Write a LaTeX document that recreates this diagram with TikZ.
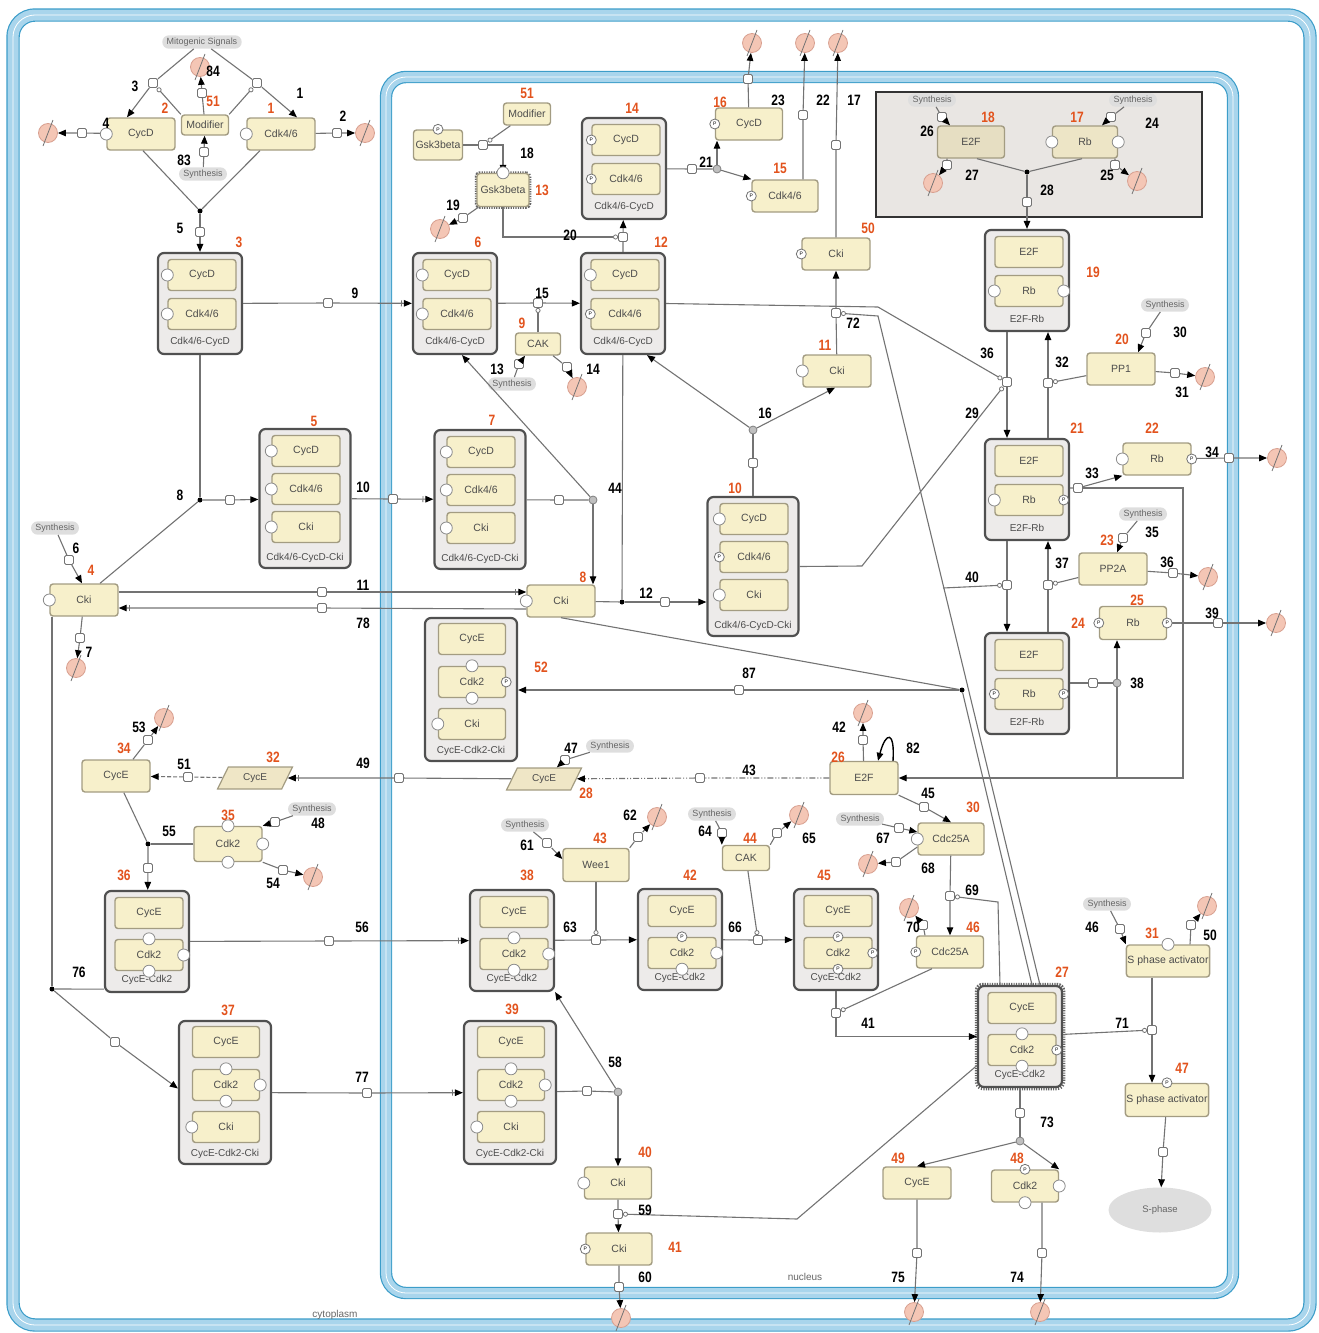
\documentclass[tikz,border=0pt]{standalone}
\usepackage{fontspec}
\setmainfont{Liberation Sans}
\newfontfamily\numfont[FakeStretch=0.8]{Liberation Sans}
\usetikzlibrary{arrows.meta,shapes.geometric,shapes.misc,positioning}

\definecolor{specfill}{HTML}{F7F0CB}
\definecolor{specline}{HTML}{A39C82}
\definecolor{cplxfill}{HTML}{EDEBEA}
\definecolor{cplxline}{HTML}{505050}
\definecolor{degfill}{HTML}{F4C6B5}
\definecolor{degline}{HTML}{D8A090}
\definecolor{rednum}{HTML}{E2531D}
\definecolor{compblue}{HTML}{A9D5EC}
\definecolor{compdark}{HTML}{3C9DC9}
\definecolor{boxgrey}{HTML}{E9E6E3}
\definecolor{e2fgrey}{HTML}{E6DEC2}
\definecolor{genefill}{HTML}{EFE6C6}

\tikzset{
  spec/.style={draw=specline, fill=specfill, line width=1.4pt, rounded corners=3pt,
    minimum width=68pt, minimum height=32pt, inner sep=1pt, text=black!70,
    font=\fontsize{10.5}{11}\selectfont},
  subspec/.style={spec, minimum width=68pt, minimum height=31pt},
  cplx/.style={draw=cplxline, fill=cplxfill, line width=2.2pt, rounded corners=6pt, inner sep=0pt},
  clab/.style={text=black!70, font=\fontsize{10}{10}\selectfont, inner sep=0pt},
  gene/.style={trapezium, trapezium left angle=62, trapezium right angle=118, trapezium stretches,
    draw=specline, fill=genefill, line width=1.2pt, minimum width=75pt, minimum height=22pt,
    inner sep=0pt, text=black!70, font=\fontsize{10}{10}\selectfont},
  site/.style={circle, draw=black!45, fill=white, line width=0.8pt, minimum size=12pt, inner sep=0pt},
  psite/.style={circle, draw=black!55, fill=white, line width=0.8pt, minimum size=10pt, inner sep=0pt,
    font=\fontsize{5}{5}\selectfont},
  degr/.style={circle, draw=degline, fill=degfill, line width=0.8pt, minimum size=19pt, inner sep=0pt},
  slash/.style={draw=black!55, line width=0.8pt},
  synth/.style={rounded rectangle, fill=black!13, inner xsep=3pt, inner ysep=2.5pt, text=black!60,
    font=\fontsize{9}{9}\selectfont},
  rsq/.style={draw=black!55, fill=white, line width=0.9pt, minimum size=9pt, inner sep=0pt, rounded corners=1.5pt},
  jdot/.style={circle, fill=black, inner sep=0pt, minimum size=5pt},
  junc/.style={circle, draw=black!50, fill=black!25, line width=0.8pt, minimum size=8pt, inner sep=0pt},
  conn/.style={draw=black!55, line width=1.1pt},
  arr/.style={-{Triangle[length=8pt,width=6.5pt,color=black]}},
  tarr/.style={-{Bar[width=6pt,line width=0.9pt,color=black!55,sep=2pt]Triangle[length=8pt,width=6.5pt,color=black]}},
  modif/.style={conn, -{Circle[open,length=5pt,width=5pt,color=black!55,line width=0.8pt]}},
  num/.style={font=\numfont\bfseries\fontsize{15}{15}\selectfont, inner sep=0pt},
  rnum/.style={num, text=rednum},
}

% complexes: two rows, three rows (CycD type), three rows (CycE type)
\newcommand{\cpxtwo}[7][61]{%
  \node[cplx, minimum width=84pt, minimum height=101pt] (#2) at (#3,#4+50.5) {};
  \node[subspec] (#2a) at (#3+2,#4+22) {#5};
  \node[subspec] (#2b) at (#3+2,#4+#1) {#6};
  \node[clab] (#2l) at (#3,#4+89) {#7};
}
\newcommand{\cpxD}[7]{%
  \node[cplx, minimum width=91pt, minimum height=139pt] (#1) at (#2,#3+69.5) {};
  \node[subspec] (#1a) at (#2+1,#3+22) {#4};
  \node[subspec] (#1b) at (#2+1,#3+60) {#5};
  \node[subspec] (#1c) at (#2+1,#3+98) {#6};
  \node[clab] (#1l) at (#2,#3+129) {#7};
}
\newcommand{\cpxE}[7]{%
  \node[cplx, minimum width=92pt, minimum height=143pt] (#1) at (#2,#3+71.5) {};
  \node[subspec, minimum width=67pt] (#1a) at (#2+1,#3+21) {#4};
  \node[subspec, minimum width=67pt] (#1b) at (#2+1,#3+64) {#5};
  \node[subspec, minimum width=67pt] (#1c) at (#2+1,#3+106) {#6};
  \node[clab] (#1l) at (#2,#3+133) {#7};
}

\begin{document}
\begin{tikzpicture}[x=1pt, y=-1pt]
  \useasboundingbox (0,0) rectangle (1318,1333);
  % compartments
  \draw[draw=compdark, line width=1.2pt, double=compblue, double distance=11pt, rounded corners=22pt]
    (13,15) rectangle (1310,1325);
  \draw[white, line width=0.8pt, rounded corners=22pt] (13,15) rectangle (1310,1325);
  \draw[draw=compdark, line width=1.2pt, double=compblue, double distance=10pt, rounded corners=20pt]
    (386,77) rectangle (1233,1293);
  \draw[white, line width=0.8pt, rounded corners=20pt] (386,77) rectangle (1233,1293);
  \node[text=black!60, font=\fontsize{10}{10}\selectfont] (lcyto) at (335,1315) {cytoplasm};
  \node[text=black!60, font=\fontsize{10}{10}\selectfont] (lnuc) at (805,1277) {nucleus};
  \draw[black!80, line width=1.5pt, fill=boxgrey] (876,92) rectangle (1202,217);

  % ---- cytoplasm
  \node[synth] (mito) at (202,42) {Mitogenic Signals};
  \node[spec] (cycd2) at (141,134) {CycD};
  \node[spec, minimum width=47pt, minimum height=20pt] (modA) at (205,125) {Modifier};
  \node[spec] (cdk1) at (281,134) {Cdk4/6};
  \node[synth] (synA) at (203,174) {Synthesis};
  \node[jdot] (j5) at (200,211) {};
  \cpxtwo{c3}{200}{253}{CycD}{Cdk4/6}{Cdk4/6-CycD}
  \node[jdot] (j8) at (200,500) {};
  \cpxD{c5}{305}{429}{CycD}{Cdk4/6}{Cki}{Cdk4/6-CycD-Cki}
  \node[spec] (cki4) at (84,600) {Cki};
  \node[synth] (syn6) at (55,528) {Synthesis};
  \node[spec] (cyce34) at (116,776) {CycE};
  \node[gene] (cyce32) at (255,778) {CycE};
  \node[spec, minimum height=35pt] (cdk35) at (228,844) {Cdk2};
  \node[jdot] (j55) at (148,844) {};
  \node[synth] (syn48) at (312,809) {Synthesis};
  \cpxtwo[64]{c36}{147}{891}{CycE}{Cdk2}{CycE-Cdk2}
  \node[jdot] (j76) at (52,989) {};
  \cpxE{c37}{225}{1021}{CycE}{Cdk2}{Cki}{CycE-Cdk2-Cki}

  % ---- nucleus
  \node[spec, minimum width=49pt, minimum height=30pt] (gsk) at (438,145) {Gsk3beta};
  \node[spec, minimum width=47pt, minimum height=22pt] (modB) at (527,114) {Modifier};
  \node[spec, minimum width=52pt, minimum height=33pt,
    preaction={draw=black!60, line width=4.5pt, dash pattern=on 1.2pt off 1.2pt}] (gsk13) at (503,190) {Gsk3beta};
  \cpxtwo{c14}{624}{118}{CycD}{Cdk4/6}{Cdk4/6-CycD}
  \cpxtwo{c6}{455}{253}{CycD}{Cdk4/6}{Cdk4/6-CycD}
  \cpxtwo{c12}{623}{253}{CycD}{Cdk4/6}{Cdk4/6-CycD}
  \node[spec, minimum width=45pt, minimum height=22pt] (cak9) at (538,344) {CAK};
  \node[synth] (syn13) at (512,384) {Synthesis};
  \node[junc] (j21) at (717,169) {};
  \node[spec, minimum width=67pt] (cycd16) at (749,124) {CycD};
  \node[spec, minimum width=66pt] (cdk15) at (785,196) {Cdk4/6};
  \node[spec] (cki50) at (836,254) {Cki};
  \node[spec] (cki11) at (837,371) {Cki};
  \cpxD{c7}{480}{430}{CycD}{Cdk4/6}{Cki}{Cdk4/6-CycD-Cki}
  \node[junc] (j44) at (593,500) {};
  \node[spec] (cki8) at (561,601) {Cki};
  \node[jdot] (j12) at (622,602) {};
  \cpxD{c10}{753}{497}{CycD}{Cdk4/6}{Cki}{Cdk4/6-CycD-Cki}
  \node[junc] (j16) at (753,430) {};
  % E2F / Rb synthesis box
  \node[synth] (syn26) at (932,100) {Synthesis};
  \node[synth] (syn24) at (1133,100) {Synthesis};
  \node[spec, minimum width=67pt, fill=e2fgrey] (e2f18) at (971,142) {E2F};
  \node[spec, minimum width=65pt, fill=e2fgrey!60!specfill] (rb17) at (1085,142) {Rb};
  \node[jdot] (j28) at (1027,172) {};
  \cpxtwo{c19}{1027}{230}{E2F}{Rb}{E2F-Rb}
  \node[spec] (pp1) at (1121,369) {PP1};
  \node[synth] (syn30) at (1165,305) {Synthesis};
  \cpxtwo{c21}{1027}{439}{E2F}{Rb}{E2F-Rb}
  \node[spec] (rb22) at (1157,459) {Rb};
  \node[synth] (syn35) at (1143,514) {Synthesis};
  \node[spec] (pp2a) at (1113,569) {PP2A};
  \node[spec, minimum width=67pt, minimum height=33pt] (rb25) at (1133,623) {Rb};
  \cpxtwo{c24}{1027}{633}{E2F}{Rb}{E2F-Rb}
  \node[junc] (j38) at (1117,683) {};
  \node[jdot] (j87) at (962,690) {};
  \cpxE{c52}{471}{618}{CycE}{Cdk2}{Cki}{CycE-Cdk2-Cki}
  \node[spec, minimum height=33pt] (e2f26) at (864,778) {E2F};
  \node[gene] (cyce28) at (544,779) {CycE};
  \node[synth] (syn47) at (610,746) {Synthesis};
  \node[spec, minimum width=66pt] (cdc30) at (951,839) {Cdc25A};
  \node[synth] (syn67) at (860,819) {Synthesis};
  \node[spec, minimum width=67pt] (cdc46) at (950,952) {Cdc25A};
  \node[spec, minimum width=66pt, minimum height=33pt] (wee1) at (596,865) {Wee1};
  \node[synth] (syn61) at (525,825) {Synthesis};
  \node[spec, minimum width=47pt, minimum height=25pt] (cak44) at (746,858) {CAK};
  \node[synth] (syn64) at (712,814) {Synthesis};
  \cpxtwo[64]{c38}{512}{890}{CycE}{Cdk2}{CycE-Cdk2}
  \cpxtwo[64]{c42}{680}{889}{CycE}{Cdk2}{CycE-Cdk2}
  \cpxtwo[64]{c45}{836}{889}{CycE}{Cdk2}{CycE-Cdk2}
  \draw[black!60, line width=4.5pt, dash pattern=on 1.2pt off 1.2pt, rounded corners=6pt]
    (977,985) rectangle (1063,1088);
  \cpxtwo[64]{c27}{1020}{986}{CycE}{Cdk2}{CycE-Cdk2}
  \node[spec, minimum width=67pt] (spa31) at (1168,961) {S phase activator};
  \node[synth] (syn46) at (1107,904) {Synthesis};
  \node[spec, minimum width=69pt, minimum height=33pt] (spa47) at (1167,1100) {S phase activator};
  \node[ellipse, fill=black!13, minimum width=103pt, minimum height=45pt, text=black!60,
    font=\fontsize{9.5}{10}\selectfont] (sphase) at (1160,1210) {S-phase};
  \node[junc] (j73) at (1020,1141) {};
  \node[spec] (cyce49) at (917,1183) {CycE};
  \node[spec, minimum width=67pt] (cdk48) at (1025,1186) {Cdk2};
  \cpxE{c39}{510}{1021}{CycE}{Cdk2}{Cki}{CycE-Cdk2-Cki}
  \node[junc] (j58) at (618,1092) {};
  \node[spec, minimum width=67pt] (cki40) at (618,1183) {Cki};
  \node[spec, minimum width=66pt] (cki41) at (619,1249) {Cki};

  % degradation
  \foreach \d/\x/\y in {d4/48/133, d2/365/133, d84/200/67, d7/76/668, d53/164/718, d54/313/877,
      d19/440/229, d14/577/387, d23/752/43, d22/805/43, d17/838/43, d27/933/183, d25/1137/181,
      d31/1205/377, d34/1277/458, d36/1208/577, d39/1276/623, d42/863/713, d68/868/864,
      d70/909/908, d62/657/817, d65/799/815, d50/1207/906, d60/621/1318, d75/914/1312, d74/1040/1312}
    \node[degr] (\d) at (\x,\y) {};
  \foreach \d in {d4,d2,d84,d7,d53,d54,d19,d14,d23,d22,d17,d27,d25,d31,d34,d36,d39,d42,d68,
      d70,d62,d65,d50,d60,d75,d74}
    \draw[slash] (\d.center) ++(-5,13) -- ++(10,-26);

  % reaction squares
  \foreach \r/\x/\y in {r4/82/133, r2/337/133, r3/153/83, r1/257/83, r84/202/93, r83/204/152,
      r5/200/232, r9/328/303, r8/230/500, r10/393/499, r6/69/560, r7/80/638, r11/322/592,
      r78/322/608, r53/148/740, r51/188/777, r49/399/778, r55/148/868, r48/275/822, r54/283/870,
      r56/329/941, r76/115/1042, r77/367/1093, r18/483/145, r19/463/218, r20/623/237,
      r15/538/303, r13/519/364, r14/567/367, r21/692/169, r23/748/79, r22/803/115, r17/836/145,
      r72/836/313, r44/559/500, r12/665/602, r16/753/463, r26/942/117, r24/1111/117,
      r27/947/165, r25/1115/165, r28/1027/202, r36/1007/382, r32/1048/383, r30/1146/333,
      r31/1175/373, r33/1078/488, r34/1229/458, r35/1123/538, r36b/1173/573, r37/1048/585,
      r40/1007/585, r39/1218/623, r38/1093/683, r87/739/690, r42/863/740, r43/700/778,
      r47/565/760, r45/924/807, r67/899/828, r68/896/862, r69/950/896, r70/923/925,
      r61/547/843, r62/638/837, r64/722/833, r65/777/833, r63/596/940, r66/758/940,
      r41/836/1013, r46/1120/929, r50/1191/925, r71/1152/1030, rS/1163/1152, r73/1020/1113,
      r75/917/1253, r74/1042/1253, r58/587/1091, r59/618/1214, r60/619/1287}
    \node[rsq] (\r) at (\x,\y) {};

  % bend points
  \coordinate (b72) at (878,316);
  \coordinate (b36) at (878,307);
  \coordinate (b29) at (862,566);
  \coordinate (b40) at (943,588);
  \coordinate (b33) at (1183,488);
  \coordinate (b69) at (998,902);
  \coordinate (b59) at (797,1219);

  % ---- reactions, cytoplasm
  \draw[conn,arr] (mito) -- (r3) -- ([xshift=-14pt]cycd2.north);
  \draw[conn,arr] (mito) -- (r1) -- ([xshift=16pt]cdk1.north);
  \draw[modif] (modA.north west) -- (r3);
  \draw[modif] (modA.north east) -- (r1);
  \draw[conn,arr] (modA) -- (r84) -- (d84);
  \draw[conn,arr] (synA) -- (r83) -- (modA);
  \draw[conn,arr] (cycd2) -- (r4) -- (d4);
  \draw[conn,arr] (cdk1) -- (r2) -- (d2);
  \draw[conn] ([xshift=2pt]cycd2.south) -- (j5);
  \draw[conn] ([xshift=-21pt]cdk1.south) -- (j5);
  \draw[conn,arr] (j5) -- (r5) -- (c3);
  \draw[conn,tarr] (c3) -- (r9) -- (c6);
  \draw[conn] (c3) -- (j8);
  \draw[conn] ([xshift=16pt]cki4.north) -- (j8);
  \draw[conn,arr] (j8) -- (r8) -- (c5);
  \draw[conn,tarr] (c5) -- (r10) -- (c7);
  \draw[conn,arr] (syn6) -- (r6) -- ([xshift=-2pt]cki4.north);
  \draw[conn,arr] (cki4) -- (r7) -- (d7);
  \draw[conn,tarr] ([yshift=8pt]cki4.east) -- (r11) -- ([yshift=9pt]cki8.west);
  \draw[conn,tarr] ([yshift=-8pt]cki8.west) -- (r78) -- ([yshift=-8pt]cki4.east);
  \draw[conn,arr] ([xshift=17pt]cyce34.north) -- (r53) -- (d53);
  \draw[conn,tarr] (cyce28) -- (r49) -- (cyce32);
  \draw[conn,arr,dash pattern=on 4pt off 2pt] (cyce32) -- (r51) -- (cyce34);
  \draw[conn] (cyce34) -- (j55);
  \draw[conn] (cdk35) -- (j55);
  \draw[conn,arr] (j55) -- (r55) -- (c36);
  \draw[conn,arr] (syn48) -- (r48) -- (cdk35.north east);
  \draw[conn,arr] (cdk35.south east) -- (r54) -- (d54);
  \draw[conn,tarr] (c36) -- (r56) -- (c38);
  \draw[conn] ([xshift=-32pt]cki4.south) -- (j76);
  \draw[conn] ([yshift=4pt]c36.south west) -- (j76);
  \draw[conn,arr] (j76) -- (r76) -- ([yshift=4pt]c37.west);
  \draw[conn,tarr] (c37) -- (r77) -- (c39);

  % ---- reactions, nucleus
  \draw[conn] (gsk) -- (r18);
  \draw[conn,arr] (r18) -- (r18 -| gsk13) -- (gsk13);
  \draw[modif] (modB) -- (r18);
  \draw[conn,arr] (gsk13) -- (r19) -- (d19);
  \draw[modif] (gsk13) |- (r20);
  \draw[conn,arr] (c12) -- (r20) -- (c14);
  \draw[conn,arr] (c6) -- (r15) -- (c12);
  \draw[modif] (cak9) -- (r15);
  \draw[conn,arr] (syn13) -- (r13) -- ([xshift=-13pt]cak9.south);
  \draw[conn,arr] ([xshift=15pt]cak9.south) -- (r14) -- (d14);
  \draw[conn] (c14) -- (r21) -- (j21);
  \draw[conn,arr] (j21) -- (j21 |- cycd16.south);
  \draw[conn,arr] (j21) -- (cdk15.north west);
  \draw[conn,arr] (cycd16) -- (r23) -- (d23);
  \draw[conn,arr] ([xshift=18pt]cdk15.north) -- (r22) -- (d22);
  \draw[conn,arr] (cki50) -- (r17) -- (d17);
  \draw[conn,arr] (cki11) -- (r72) -- (cki50);
  \draw[modif] ([xshift=20pt]c27.north) -- (b72) -- (r72);
  \draw[conn] (c7) -- (r44) -- (j44);
  \draw[conn,arr] (j44) -- ([xshift=32pt]cki8.north);
  \draw[conn,arr] (j44) -- ([xshift=7pt]c6.south);
  \draw[conn] (cki8) -- (j12);
  \draw[conn] (c12) -- (j12);
  \draw[conn,arr] (j12) -- (r12) -- (c10.west |- j12);
  \draw[conn] (c10) -- (r16) -- (j16);
  \draw[conn,arr] (j16) -- ([xshift=24pt]c12.south);
  \draw[conn,arr] (j16) -- ([xshift=-2pt]cki11.south);
  % E2F-Rb
  \draw[conn,arr] (syn26) -- (r26) -- ([xshift=-21pt]e2f18.north);
  \draw[conn,arr] (syn24) -- (r24) -- ([xshift=17pt]rb17.north);
  \draw[conn,arr] ([xshift=-24pt]e2f18.south) -- (r27) -- (d27);
  \draw[conn,arr] ([xshift=30pt]rb17.south) -- (r25) -- (d25);
  \draw[conn] ([xshift=6pt]e2f18.south) -- (j28);
  \draw[conn] ([xshift=-3pt]rb17.south) -- (j28);
  \draw[conn,arr] (j28) -- (r28) -- (c19);
  \draw[conn,arr] (c19.south -| r36) -- (r36) -- (r36 |- c21.north);
  \draw[modif] (c12.east) -- (b36) -- (r36);
  \draw[modif] (c10.east) -- (b29) -- (r36);
  \draw[conn,arr] (c21.north -| r32) -- (r32) -- (r32 |- c19.south);
  \draw[modif] (pp1) -- (r32);
  \draw[conn,arr] (syn30) -- (r30) -- ([xshift=17pt]pp1.north);
  \draw[conn,arr] (pp1) -- (r31) -- (d31);
  \draw[conn,arr] (c21.east |- r33) -- (r33) -- (rb22.south west);
  \draw[conn,arr] (r33) -- (b33) |- (e2f26);
  \draw[conn,arr] (rb22) -- (r34) -- (d34);
  \draw[conn,arr] (c24.north -| r37) -- (r37) -- (r37 |- c21.south);
  \draw[modif] (pp2a) -- (r37);
  \draw[conn,arr] (syn35) -- (r35) -- ([xshift=4pt]pp2a.north);
  \draw[conn,arr] (pp2a) -- (r36b) -- (d36);
  \draw[conn,arr] (c21.south -| r40) -- (r40) -- (r40 |- c24.north);
  \draw[modif] (b40) -- (r40);
  \draw[conn,arr] (rb25) -- (r39) -- (d39);
  \draw[conn] (c24.east |- r38) -- (r38) -- (j38);
  \draw[conn,arr] (j38) -- (j38 |- rb25.south);
  \draw[conn] (j38) -- (j38 |- e2f26);
  % CycE-Cdk2-Cki
  \draw[conn] (cki8.south) -- (j87);
  \draw[conn] ([xshift=12pt]c27.north) -- (j87);
  \draw[conn,arr] (j87) -- (r87) -- (c52.east |- r87);
  % E2F targets
  \draw[conn,arr] (e2f26) -- (r42) -- (d42);
  \draw[conn,arr,line width=1.4pt,draw=black] ([xshift=29pt]e2f26.north) .. controls +(2,-30) and +(8,-30) .. ([xshift=14pt]e2f26.north);
  \draw[conn,arr,dash pattern=on 6pt off 2pt on 1pt off 2pt on 1pt off 2pt] (e2f26) -- (r43) -- (cyce28);
  \draw[conn,arr] (syn47) -- (r47) -- (cyce28);
  \draw[conn,arr] (e2f26.south east) -- (r45) -- (cdc30.north);
  \draw[conn,arr] (syn67) -- (r67) -- ([yshift=7pt]cdc30.west);
  \draw[conn,arr] ([yshift=-8pt]cdc30.west) -- (r68) -- (d68);
  \draw[conn,arr] (cdc30) -- (r69) -- (cdc46);
  \draw[modif] ([xshift=-20pt]c27.north) -- (b69) -- (r69);
  \draw[conn,arr] ([xshift=-25pt]cdc46.north) -- (r70) -- (d70);
  % CycE-Cdk2 activation
  \draw[conn,arr] (c38) -- (r63) -- (c42);
  \draw[modif] (wee1) -- (r63);
  \draw[conn,arr] (syn61) -- (r61) -- ([yshift=6pt]wee1.west);
  \draw[conn,arr] (wee1.north east) -- (r62) -- (d62);
  \draw[conn,arr] (c42) -- (r66) -- (c45);
  \draw[modif] (cak44) -- (r66);
  \draw[conn,arr] (syn64) -- (r64) -- (cak44.north west);
  \draw[conn,arr] (cak44.north east) -- (r65) -- (d65);
  \draw[conn,arr] (c45) -- (r41) |- (c27);
  \draw[modif] ([xshift=-18pt]cdc46.south) -- (r41);
  % S phase
  \draw[modif] (c27) -- (r71);
  \draw[conn,arr] (spa31.south -| r71) -- (r71) -- (r71 |- spa47.north);
  \draw[conn,arr] (syn46) -- (r46) -- (spa31.north west);
  \draw[conn,arr] ([xshift=22pt]spa31.north) -- (r50) -- (d50);
  \draw[conn,arr] (spa47) -- (rS) -- (sphase);
  \draw[conn] (c27) -- (r73) -- (j73);
  \draw[conn,arr] (j73) -- (cyce49.north);
  \draw[conn,arr] (j73) -- (cdk48.north east);
  \draw[conn,arr] (cyce49) -- (r75) -- (d75);
  \draw[conn,arr] ([xshift=17pt]cdk48.south) -- (r74) -- (d74);
  % Cki release
  \draw[conn] (c39) -- (r58) -- (j58);
  \draw[conn,arr] (j58) -- (c38.south east);
  \draw[conn,arr] (j58) -- (cki40);
  \draw[conn,arr] (cki40) -- (r59) -- (cki41);
  \draw[modif] ([yshift=-29pt]c27.west) -- (b59) -- (r59);
  \draw[conn,arr] (cki41) -- (r60) -- (d60);

  % binding sites and phosphorylation sites
  \foreach \p [count=\i] in {cycd2.west, cdk1.west, cki4.west, cki8.west, cki11.west, cki40.west,
      gsk13.north, rb17.west, rb17.east, rb22.west, cdc30.west, cdk35.north, cdk35.south,
      cdk35.east, spa31.north, cdk48.east, cdk48.south, c3a.west, c3b.west, c6a.west, c6b.west,
      c12a.west, c5a.west, c5b.west, c5c.west, c7a.west, c7b.west, c7c.west, c10a.west,
      c10c.west, c19b.west, c19b.east, c21b.west, c36b.north, c36b.east, c36b.south,
      c38b.north, c38b.east, c38b.south, c42b.east, c42b.south, c27b.north, c27b.south,
      c37b.north, c37b.east, c37b.south, c37c.west, c39b.north, c39b.east, c39b.south,
      c39c.west, c52b.north, c52b.south, c52c.west}
    \node[site] (st\i) at (\p) {};
  \foreach \p [count=\i] in {cki50.west, cycd16.west, cdk15.west, cki41.west, gsk.north,
      rb22.east, rb25.west, rb25.east, cdc46.west, spa47.north, cdk48.north, c12b.west,
      c14a.west, c14b.west, c10b.west, c21b.east, c24b.west, c24b.east, c42b.north,
      c45b.north, c45b.east, c45b.south, c27b.east, c52b.east}
    \node[psite] (ps\i) at (\p) {P};

  % reaction numbers
  \foreach \t/\x/\y [count=\i] in {3/135/86, 84/213/71, 1/300/93, 2/343/116, 4/106/123,
      83/184/160, 5/180/228, 9/355/293, 8/180/495, 10/363/487, 6/76/548, 7/89/652, 11/363/585,
      78/363/623, 18/527/153, 19/453/205, 20/570/235, 21/706/162, 23/778/100, 22/823/100,
      17/854/100, 15/542/293, 13/497/369, 14/593/369, 44/615/488, 12/646/593, 16/765/413,
      72/853/323, 26/927/131, 24/1152/123, 27/972/175, 25/1107/175, 28/1047/190, 30/1180/332,
      36/987/353, 32/1062/362, 31/1182/392, 29/972/413, 34/1212/452, 33/1092/473, 35/1152/532,
      36/1167/562, 37/1062/563, 40/972/577, 39/1212/613, 38/1137/683, 87/749/673, 42/839/727,
      82/913/748, 43/749/770, 47/571/748, 49/363/763, 51/184/764, 53/139/727, 55/169/831,
      48/318/823, 54/273/883, 56/362/927, 76/79/972, 61/527/845, 62/630/815, 63/570/927,
      64/705/831, 65/809/838, 66/735/927, 45/928/793, 67/883/838, 68/928/868, 69/972/890,
      70/913/927, 46/1092/927, 50/1210/935, 41/868/1023, 71/1122/1023, 73/1047/1122,
      77/362/1077, 58/615/1062, 59/645/1210, 60/645/1277, 75/898/1277, 74/1017/1277}
    \node[num] (n\i) at (\x,\y) {\t};
  % species numbers
  \foreach \t/\x/\y [count=\i] in {2/165/108, 51/213/101, 1/271/108, 3/239/242, 5/314/421,
      4/91/570, 6/478/242, 12/661/242, 14/632/108, 16/720/102, 15/780/168, 51/527/93,
      13/542/190, 9/522/323, 7/492/420, 8/583/577, 10/735/488, 11/825/345, 50/868/228,
      18/988/117, 17/1077/117, 19/1093/272, 20/1122/339, 21/1077/428, 22/1152/428,
      23/1107/540, 25/1137/600, 24/1078/623, 52/541/667, 26/838/757, 28/586/793, 32/273/757,
      34/124/748, 35/228/815, 36/124/875, 43/600/838, 44/750/838, 38/527/875, 42/690/875,
      45/824/875, 30/973/807, 46/973/927, 27/1062/972, 31/1152/933, 47/1182/1068,
      37/228/1010, 39/512/1009, 40/645/1152, 41/675/1247, 49/898/1158, 48/1017/1158}
    \node[rnum] (rn\i) at (\x,\y) {\t};
\end{tikzpicture}
\end{document}
